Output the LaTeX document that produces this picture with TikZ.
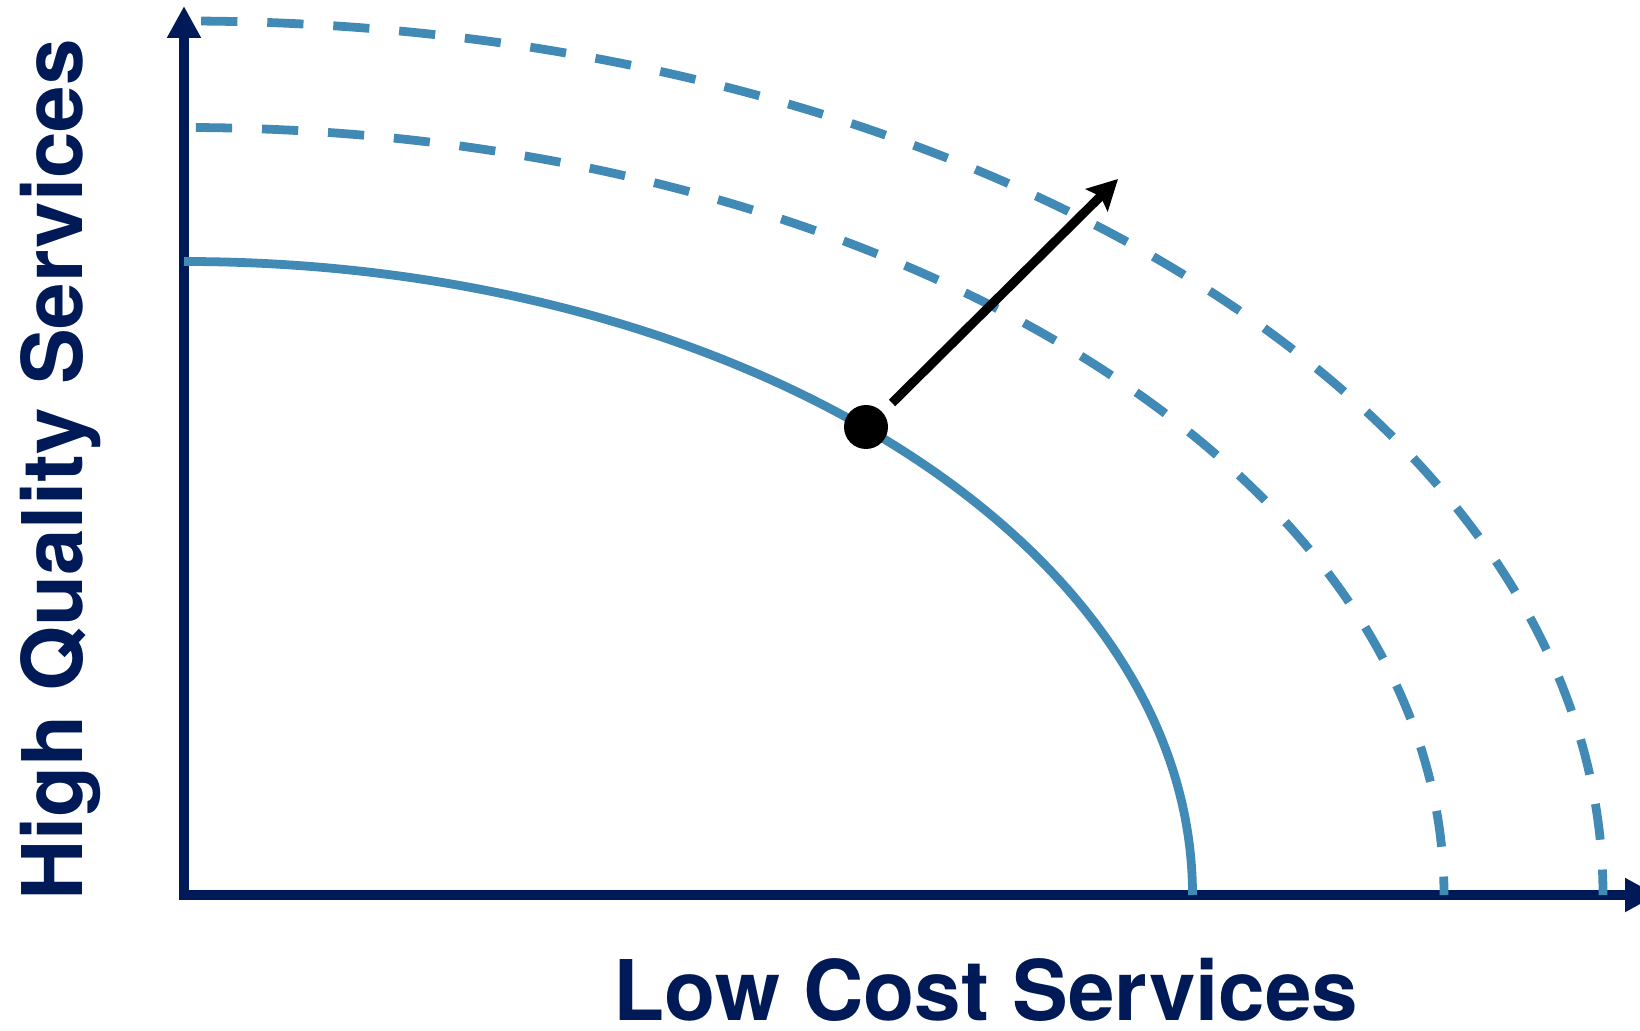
\documentclass[tikz,border=0pt]{standalone}
\usepackage{fontspec}
\setmainfont{TeX Gyre Heros}
\usetikzlibrary{arrows.meta}
\definecolor{navy}{RGB}{0,26,87}
\definecolor{frontier}{RGB}{66,138,182}
\begin{document}
\begin{tikzpicture}[line join=miter]
	\tikzstyle{axis}=[draw=navy, line width=2.9pt]
	\tikzstyle{ppf}=[draw=frontier, line width=2.5pt]
	\tikzstyle{dashedppf}=[ppf, dash pattern=on 10.3pt off 8.5pt]
	\tikzstyle{point}=[circle, fill=black, inner sep=0pt, minimum size=4.4mm]
	\tikzstyle{moveout}=[draw=black, line width=2.6pt]
	\tikzstyle{label}=[text=navy, inner sep=0pt, font=\fontsize{23.8}{28}\selectfont\bfseries]
	\useasboundingbox (0,0) rectangle (16.4,10.3);
	\begin{scope}

		\coordinate (O) at (1.84,1.35);
		\coordinate (ytop) at (1.84,10.24);
		\coordinate (xend) at (16.57,1.35);
		\coordinate (from) at (8.92,6.27);
		\coordinate (to) at (11.18,8.51);

		\draw[axis, {Triangle[length=9.1pt,width=9.1pt]}-{Triangle[length=9.1pt,width=9.1pt]}] (ytop) -- (O) -- (xend);

		% frontier now and after the shift
		\draw[ppf] (O) ++(0,6.335) arc[start angle=90, end angle=0, x radius=10.085cm, y radius=6.335cm];
		\draw[dashedppf, dash phase=15.4pt] (O) ++(0,7.675) arc[start angle=90, end angle=0, x radius=12.6cm, y radius=7.675cm];
		\draw[dashedppf, dash phase=13.9pt] (O) ++(0,8.74) arc[start angle=90, end angle=0, x radius=14.19cm, y radius=8.74cm];

		\draw[moveout, -{Stealth[length=8.5pt,width=8.8pt,inset=1.5pt]}] (from) -- (to);
		\node [point] (p) at (8.66,6.03) {};

		\node [label, rotate=90, anchor=base] (ylab) at (0.83,5.60) {High Quality Services};
		\node [label, anchor=base] (xlab) at (9.86,0.10) {Low Cost Services};

	\end{scope}
\end{tikzpicture}
\end{document}
